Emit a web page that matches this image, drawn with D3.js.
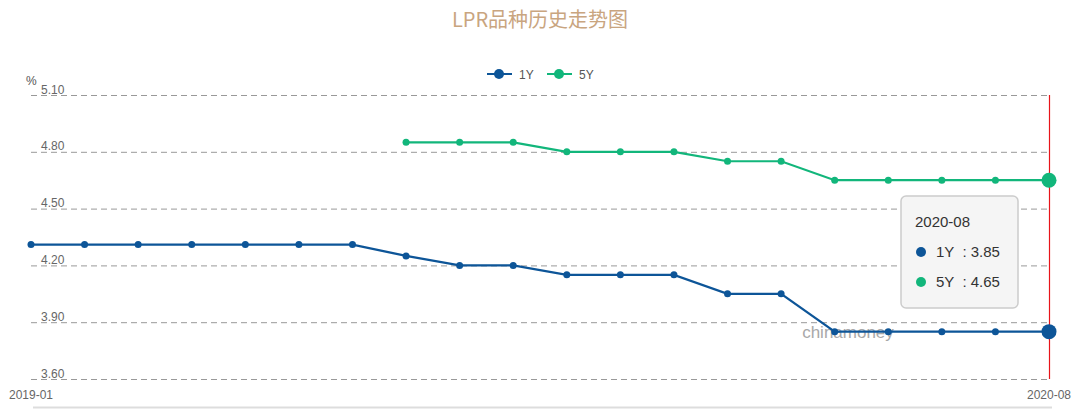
<!DOCTYPE html>
<html>
<head>
<meta charset="utf-8">
<script src="https://cdn.jsdelivr.net/npm/d3@7"></script>
<style>
  body { margin: 0; background: #fff; font-family: "Liberation Sans", "Noto Sans CJK SC", sans-serif; }
</style>
</head>
<body>
<div id="chart"></div>
<script>
var months = ["2019-01","2019-02","2019-03","2019-04","2019-05","2019-06","2019-07","2019-08","2019-09","2019-10",
              "2019-11","2019-12","2020-01","2020-02","2020-03","2020-04","2020-05","2020-06","2020-07","2020-08"];
var lpr1y = [4.31,4.31,4.31,4.31,4.31,4.31,4.31,4.25,4.20,4.20,4.15,4.15,4.15,4.05,4.05,3.85,3.85,3.85,3.85,3.85];
var lpr5y = [null,null,null,null,null,null,null,4.85,4.85,4.85,4.80,4.80,4.80,4.75,4.75,4.65,4.65,4.65,4.65,4.65];
var yTicks = [3.60, 3.90, 4.20, 4.50, 4.80, 5.10];
var xLabels = ["2019-01", "2020-08"];

var col1 = "#0d5598", col5 = "#12b67b";
var svgWidth = 1080, svgHeight = 409;
var plotLeft = 31, plotRight = 1049, plotTop = 95, plotBottom = 379;

var svg = d3.select("#chart").append("svg")
  .attr("width", svgWidth)
  .attr("height", svgHeight);

var x = d3.scalePoint().domain(months).range([plotLeft, plotRight]);
var y = d3.scaleLinear().domain([3.60, 5.10]).range([plotBottom, plotTop]);

// title
svg.append("text")
  .attr("x", 540).attr("y", 27)
  .attr("text-anchor", "middle")
  .attr("fill", "#c9a57f")
  .style("font-family", "Noto Sans CJK SC, sans-serif")
  .style("font-size", "20px")
  .text("LPR品种历史走势图");

// grid lines + y labels
var yAxis = d3.axisLeft(y).tickValues(yTicks).tickSize(-(plotRight - plotLeft)).tickFormat(d3.format(".2f"));
var gy = svg.append("g").attr("transform", "translate(" + plotLeft + ",0)").call(yAxis);
gy.select(".domain").remove();
gy.selectAll(".tick line").attr("stroke", "#999").attr("stroke-dasharray", "6,4");
gy.selectAll(".tick text")
  .attr("x", 10).attr("dy", -2)
  .attr("text-anchor", "start")
  .attr("fill", "#666")
  .style("font-size", "12px")
  .style("font-family", "Liberation Sans, sans-serif");

svg.append("text").attr("x", 26).attr("y", 85)
  .attr("fill", "#555").style("font-size", "12px").text("%");

// x labels
svg.selectAll(".xlab").data(xLabels).enter().append("text")
  .attr("class", "xlab")
  .attr("x", function(d) { return x(d); })
  .attr("y", 399)
  .attr("text-anchor", "middle")
  .attr("fill", "#666")
  .style("font-size", "12px")
  .text(function(d) { return d; });

// bottom line
svg.append("line").attr("x1", 33).attr("x2", 1052).attr("y1", 407.5).attr("y2", 407.5)
  .attr("stroke", "#ddd").attr("stroke-width", 2);

// watermark
svg.append("text").attr("x", 848).attr("y", 338)
  .attr("text-anchor", "middle")
  .attr("fill", "#999").attr("opacity", 0.85)
  .style("font-size", "17px")
  .text("chinamoney");

// red cursor line
svg.append("line")
  .attr("x1", x("2020-08") + 0.5).attr("x2", x("2020-08") + 0.5)
  .attr("y1", plotTop).attr("y2", plotBottom)
  .attr("stroke", "#e8141a").attr("stroke-width", 1.2);

var line = d3.line()
  .defined(function(d) { return d.v != null; })
  .x(function(d) { return x(d.m); })
  .y(function(d) { return y(d.v); });

function drawSeries(vals, color) {
  var data = months.map(function(m, i) { return { m: m, v: vals[i] }; });
  svg.append("path").datum(data)
    .attr("fill", "none").attr("stroke", color).attr("stroke-width", 2.2)
    .attr("d", line);
  svg.append("g").selectAll("circle")
    .data(data.filter(function(d) { return d.v != null; }))
    .enter().append("circle")
    .attr("cx", function(d) { return x(d.m); })
    .attr("cy", function(d) { return y(d.v); })
    .attr("r", function(d) { return d.m === "2020-08" ? 7.5 : 3.5; })
    .attr("fill", color);
}
drawSeries(lpr5y, col5);
drawSeries(lpr1y, col1);

// legend
var legend = [{ name: "1Y", color: col1, x: 487 }, { name: "5Y", color: col5, x: 547 }];
var lg = svg.append("g").selectAll("g").data(legend).enter().append("g")
  .attr("transform", function(d) { return "translate(" + d.x + ",74)"; });
lg.append("line").attr("x1", 0).attr("x2", 25).attr("stroke", function(d) { return d.color; }).attr("stroke-width", 2);
lg.append("circle").attr("cx", 12).attr("r", 5).attr("fill", function(d) { return d.color; });
lg.append("text").attr("x", 32).attr("y", 4.5).attr("fill", "#555").style("font-size", "12px")
  .text(function(d) { return d.name; });

// tooltip
var tip = svg.append("g").attr("transform", "translate(901,196)");
tip.append("rect").attr("width", 117).attr("height", 112).attr("rx", 5)
  .attr("fill", "#f5f5f5").attr("stroke", "#ccc").attr("stroke-width", 1.5);
tip.append("text").attr("x", 14).attr("y", 31).attr("fill", "#333").style("font-size", "15px").text("2020-08");
var rows = [{ name: "1Y", color: col1, v: lpr1y[19] }, { name: "5Y", color: col5, v: lpr5y[19] }];
var tr = tip.selectAll(".row").data(rows).enter().append("g")
  .attr("transform", function(d, i) { return "translate(0," + (56 + i * 30) + ")"; });
tr.append("circle").attr("cx", 20).attr("cy", 0).attr("r", 5).attr("fill", function(d) { return d.color; });
tr.append("text").attr("x", 35).attr("y", 5).attr("fill", "#333").style("font-size", "15px")
  .attr("xml:space", "preserve").style("white-space", "pre")
  .text(function(d) { return d.name + "  : " + d.v.toFixed(2); });
</script>
</body>
</html>
